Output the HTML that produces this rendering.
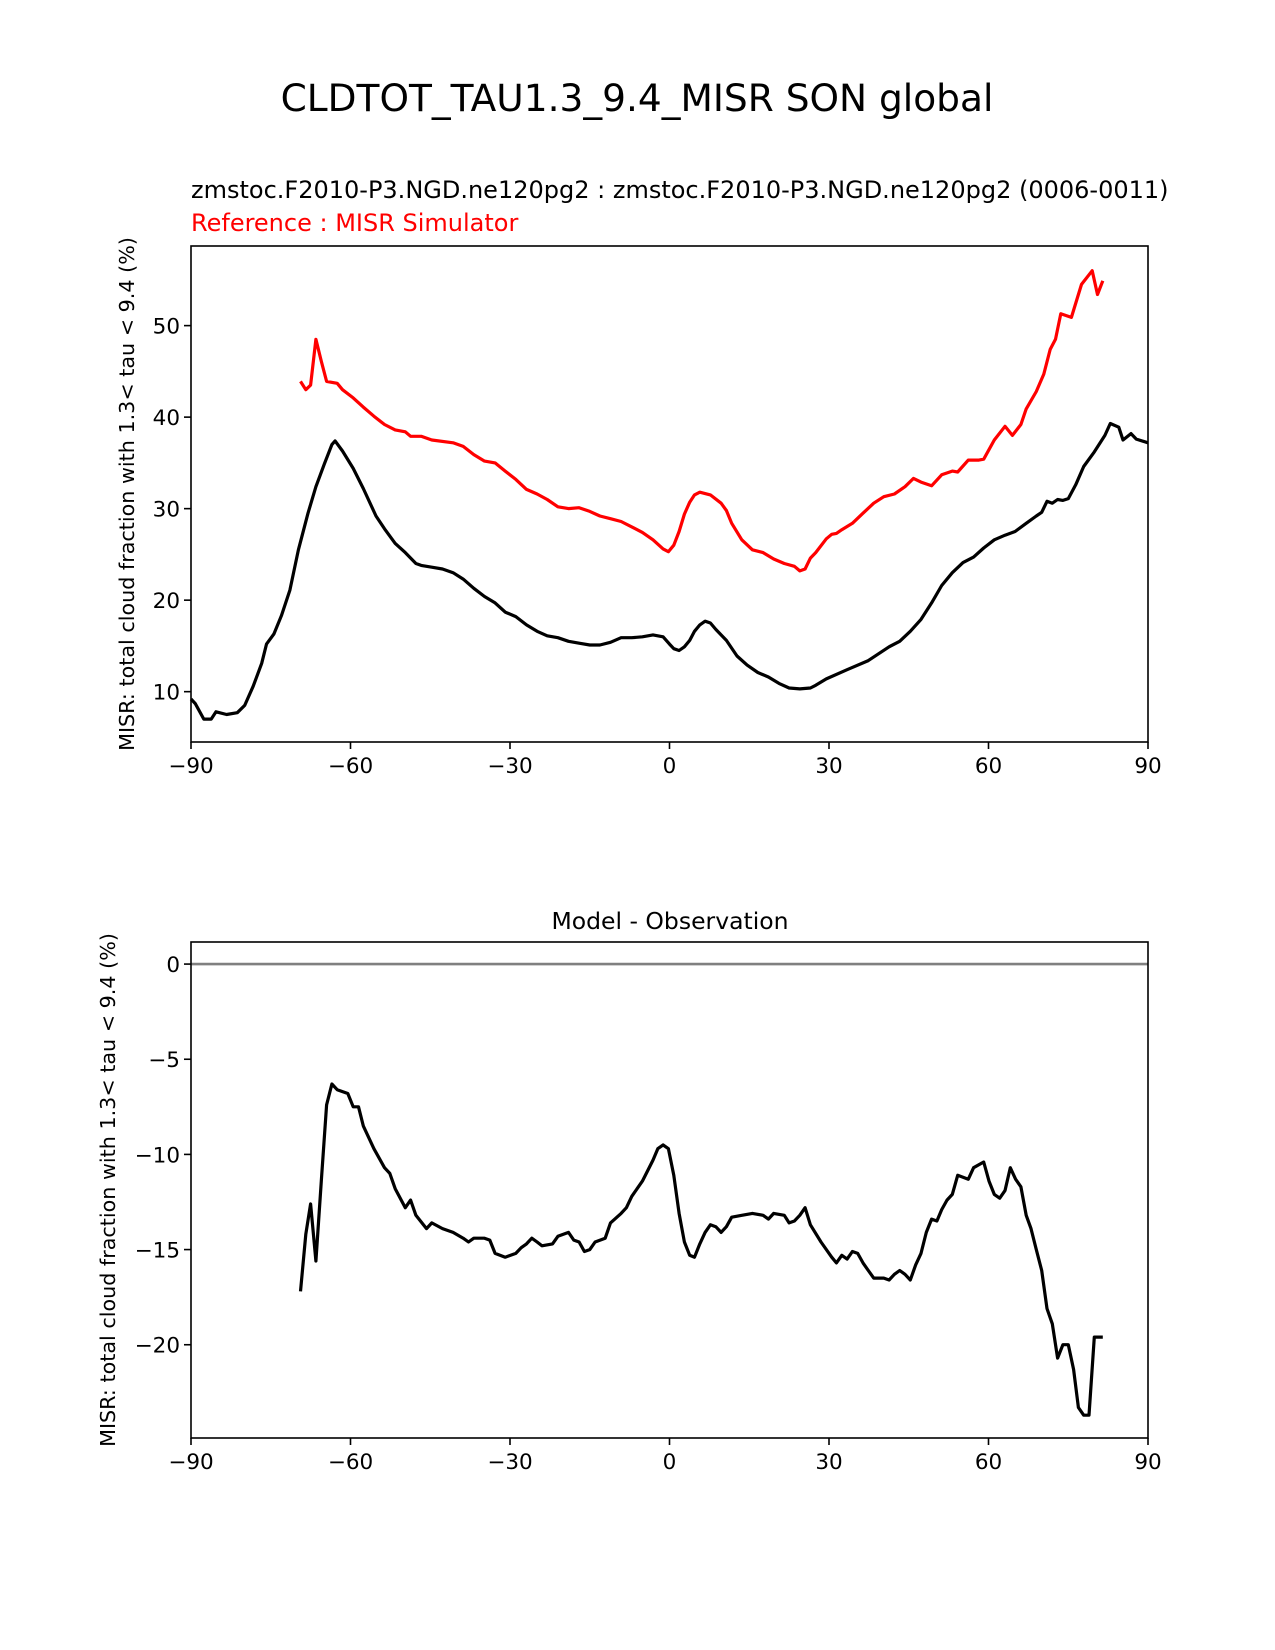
<!DOCTYPE html>
<html><head><meta charset="utf-8"><style>
html,body{margin:0;padding:0;background:#fff;}
svg{display:block;font-family:"DejaVu Sans","Liberation Sans",sans-serif;}
</style></head><body>
<svg id="fig" width="1275" height="1650" viewBox="0 0 1275 1650">
<text x="637" y="111" font-size="37.5" text-anchor="middle">CLDTOT_TAU1.3_9.4_MISR SON global</text>
<text x="191" y="198" font-size="24">zmstoc.F2010-P3.NGD.ne120pg2 : zmstoc.F2010-P3.NGD.ne120pg2 (0006-0011)</text>
<text x="191" y="231" font-size="24" fill="red">Reference : MISR Simulator</text>
<text x="670" y="929" font-size="23.5" text-anchor="middle">Model - Observation</text>
<g id="top"></g>
<g id="bot"></g>
</svg>
<script>
const latTicks=[-90,-60,-30,0,30,60,90];
const topYTicks=[10,20,30,40,50];
const botYTicks=[0,-5,-10,-15,-20];
const modelLat=[-90,-89.2,-87.6,-86.2,-85.3,-83.3,-81.3,-79.9,-78.3,-76.7,-75.8,-74.4,-73,-71.4,-69.8,-68,-66.5,-64.9,-63.5,-62.9,-61.5,-59.5,-57.6,-55.2,-53.6,-51.6,-49.7,-47.7,-46.7,-44.7,-42.7,-40.7,-38.8,-36.8,-34.8,-32.8,-30.9,-28.9,-26.9,-24.9,-23,-21,-19,-17,-15,-13.1,-11.1,-9.1,-7.1,-5.1,-3.1,-1.2,0,0.8,1.8,2.8,3.8,4.7,5.7,6.7,7.7,8.7,10.7,12.7,14.6,16.6,18.6,20.6,22.5,24.5,26.5,27.5,29.5,33.4,37.4,41.3,43.3,45.3,47.3,49.3,51.2,53.2,55.2,57.2,59.1,61.1,63.1,65,67.1,69,70,71,72,73,74,75,76.4,77.9,79.9,81.9,82.9,84.5,85.3,86.8,87.8,90];
const modelVal=[9.2,8.7,7.0,7.0,7.8,7.5,7.7,8.5,10.6,13.1,15.2,16.3,18.3,21.1,25.5,29.5,32.4,34.9,37.0,37.4,36.3,34.4,32.2,29.2,27.8,26.2,25.2,24.0,23.8,23.6,23.4,23.0,22.3,21.3,20.4,19.7,18.7,18.2,17.3,16.6,16.1,15.9,15.5,15.3,15.1,15.1,15.4,15.9,15.9,16.0,16.2,16.0,15.2,14.7,14.5,14.9,15.6,16.6,17.3,17.7,17.5,16.8,15.6,13.9,12.9,12.1,11.6,10.9,10.4,10.3,10.4,10.7,11.4,12.4,13.4,14.9,15.5,16.6,17.9,19.7,21.6,23.0,24.1,24.7,25.7,26.6,27.1,27.5,28.4,29.2,29.6,30.8,30.6,31.0,30.9,31.1,32.6,34.6,36.2,38.0,39.3,38.9,37.5,38.2,37.6,37.2];
const refLat=[-69.4,-68.4,-67.5,-66.5,-65.5,-64.5,-62.5,-61.5,-59.5,-57.6,-55.6,-53.6,-51.6,-49.7,-48.7,-46.7,-44.7,-40.7,-38.8,-36.8,-34.8,-32.8,-30.9,-28.9,-26.9,-24.9,-23,-21,-19,-17,-15,-13.1,-11.1,-9.1,-7.1,-5.1,-3.1,-1.2,-0.2,0.8,1.8,2.8,3.8,4.7,5.7,7.7,9.7,10.7,11.7,13.6,15.6,17.6,19.6,21.6,23.5,24.5,25.5,26.5,27.5,29.5,30.5,31.4,32.4,34.4,36.4,38.4,40.3,42.3,44.3,45.9,47.3,49.3,51.2,53.2,54.2,56.2,58.2,59.1,61.1,63.1,64.5,66.1,67.1,69,70.4,71.6,72.6,73.6,75.6,77.5,79.5,80.5,81.5];
const refVal=[43.9,43.0,43.5,48.5,46.1,43.9,43.7,43.0,42.1,41.1,40.1,39.2,38.6,38.4,37.9,37.9,37.5,37.2,36.8,35.9,35.2,35.0,34.1,33.2,32.1,31.6,31.0,30.2,30.0,30.1,29.7,29.2,28.9,28.6,28.0,27.4,26.6,25.6,25.3,26.0,27.5,29.4,30.7,31.5,31.8,31.5,30.6,29.8,28.4,26.6,25.5,25.2,24.5,24.0,23.7,23.2,23.4,24.6,25.2,26.7,27.2,27.3,27.7,28.4,29.5,30.6,31.3,31.6,32.4,33.3,32.9,32.5,33.7,34.1,34.0,35.3,35.3,35.4,37.5,39.0,38.0,39.2,40.9,42.8,44.7,47.4,48.5,51.3,50.9,54.5,56.0,53.4,54.9];
const diffLat=[-69.4,-68.4,-67.5,-66.5,-65.5,-64.5,-63.5,-62.5,-60.5,-59.5,-58.5,-57.6,-55.6,-53.6,-52.6,-51.6,-49.7,-48.7,-47.7,-45.7,-44.7,-42.7,-40.7,-38.8,-37.8,-36.8,-34.8,-33.8,-32.8,-30.9,-28.9,-27.9,-26.9,-25.9,-24.9,-24,-22,-21,-19,-18,-17,-16,-15,-14,-12.1,-11.1,-9.1,-8.1,-7.1,-5.1,-3.1,-2.2,-1.2,-0.2,0.8,1.8,2.8,3.8,4.7,5.7,6.7,7.7,8.7,9.7,10.7,11.7,13.6,15.6,17.6,18.6,19.6,21.6,22.5,23.5,24.5,25.5,26.5,28.5,30.5,31.4,32.4,33.4,34.4,35.4,36.4,37.4,38.4,40.3,41.3,42.3,43.3,44.3,45.3,46.3,47.3,48.3,49.3,50.3,51.2,52.2,53.2,54.2,55.2,56.2,57.2,59.1,60.1,61.1,62.1,63.1,64.1,65.1,66.1,67.1,68,69,70,71,72,73,74,75,76,76.9,77.9,78.9,79.9,81.5];
const diffVal=[-17.2,-14.2,-12.6,-15.6,-11.4,-7.4,-6.3,-6.6,-6.8,-7.5,-7.5,-8.5,-9.7,-10.7,-11.0,-11.8,-12.8,-12.4,-13.2,-13.9,-13.6,-13.9,-14.1,-14.4,-14.6,-14.4,-14.4,-14.5,-15.2,-15.4,-15.2,-14.9,-14.7,-14.4,-14.6,-14.8,-14.7,-14.3,-14.1,-14.5,-14.6,-15.1,-15.0,-14.6,-14.4,-13.6,-13.1,-12.8,-12.2,-11.4,-10.3,-9.7,-9.5,-9.7,-11.1,-13.1,-14.6,-15.3,-15.4,-14.7,-14.1,-13.7,-13.8,-14.1,-13.8,-13.3,-13.2,-13.1,-13.2,-13.4,-13.1,-13.2,-13.6,-13.5,-13.2,-12.8,-13.7,-14.6,-15.4,-15.7,-15.3,-15.5,-15.1,-15.2,-15.7,-16.1,-16.5,-16.5,-16.6,-16.3,-16.1,-16.3,-16.6,-15.8,-15.2,-14.1,-13.4,-13.5,-12.9,-12.4,-12.1,-11.1,-11.2,-11.3,-10.7,-10.4,-11.4,-12.1,-12.3,-11.9,-10.7,-11.3,-11.7,-13.2,-13.9,-15.0,-16.1,-18.1,-18.9,-20.7,-20.0,-20.0,-21.3,-23.3,-23.7,-23.7,-19.6,-19.6];

const NS='http://www.w3.org/2000/svg';
function mk(parent,tag,attrs){const e=document.createElementNS(NS,tag);for(const k in attrs)e.setAttribute(k,attrs[k]);parent.appendChild(e);return e;}

function drawAxes(g,box,yMin,yMax,yTicks,ylab,series,zeroLine){
  const xS=v=>box.l+(v+90)/180*(box.r-box.l);
  const yS=v=>box.b-(v-yMin)/(yMax-yMin)*(box.b-box.t);
  if(zeroLine){
    const z=mk(g,'line',{x1:box.l,x2:box.r,y1:yS(0),y2:yS(0),stroke:'#808080','stroke-width':2.6});
    
    
  }
  series.forEach(s=>{
    let d='';
    s.x.forEach((v,i)=>{d+=(i?'L':'M')+xS(v).toFixed(1)+','+yS(s.y[i]).toFixed(1);});
    const p=mk(g,'path',{d:d,fill:'none',stroke:s.color,'stroke-width':3.2,'stroke-linejoin':'round'});
    
    
  });
  const fr=mk(g,'rect',{x:box.l,y:box.t,width:box.r-box.l,height:box.b-box.t,fill:'none',stroke:'#000','stroke-width':1.6});
  
  
  latTicks.forEach(t=>{
    const x=xS(t);
    mk(g,'line',{x1:x,x2:x,y1:box.b,y2:box.b+7,stroke:'#000','stroke-width':1.6});
    const tx=mk(g,'text',{x:x,y:box.b+31,'font-size':21.5,'text-anchor':'middle'});
    tx.textContent=t<0?'\u2212'+(-t):String(t);
    
    
  });
  yTicks.forEach(t=>{
    const y=yS(t);
    mk(g,'line',{x1:box.l-7,x2:box.l,y1:y,y2:y,stroke:'#000','stroke-width':1.6});
    const tx=mk(g,'text',{x:box.l-11,y:y+8,'font-size':21.5,'text-anchor':'end'});
    tx.textContent=t<0?'\u2212'+(-t):String(t);
    
    
  });
  const cy=(box.t+box.b)/2;
  const yl=mk(g,'text',{x:ylab,y:cy,'font-size':20.7,'text-anchor':'middle',transform:'rotate(-90 '+ylab+' '+cy+')'});
  yl.textContent='MISR: total cloud fraction with 1.3< tau < 9.4 (%)';
  
  
}
drawAxes(document.getElementById('top'),{l:191,r:1148,t:246,b:742},4.5,58.7,topYTicks,134,
  [{x:modelLat,y:modelVal,color:'#000',name:'model-line'},{x:refLat,y:refVal,color:'#ff0000',name:'reference-line'}],false);
drawAxes(document.getElementById('bot'),{l:191,r:1148,t:942,b:1438},-24.9,1.16,botYTicks,115,
  [{x:diffLat,y:diffVal,color:'#000',name:'difference-line'}],true);
</script>
</body></html>
